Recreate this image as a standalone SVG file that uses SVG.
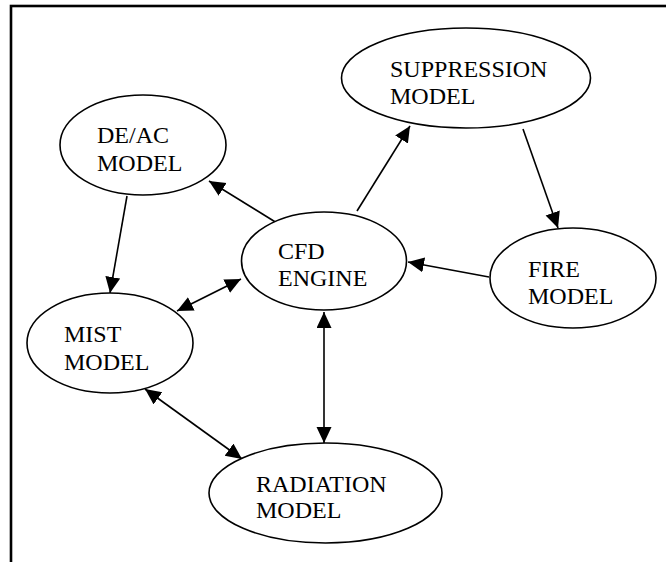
<svg xmlns="http://www.w3.org/2000/svg" width="666" height="562" viewBox="0 0 666 562">
<style>
.node ellipse{fill:#fff;stroke:#000;stroke-width:1.6}
.node text{font-family:"Liberation Serif","Times New Roman",serif;font-size:24px;fill:#000}
.edge{stroke:#000;stroke-width:1.6;fill:none}
</style>
<defs>
<marker id="ah" markerUnits="userSpaceOnUse" markerWidth="17" markerHeight="16" refX="16" refY="7.5" orient="auto-start-reverse">
<path d="M0,0 L16,7.5 L0,15 z" fill="#000"/>
</marker>
</defs>
<rect x="0" y="0" width="666" height="562" fill="#fff"/>
<rect id="frame" x="11" y="6" width="700" height="600" fill="none" stroke="#000" stroke-width="2.6"/>
<g id="connectors">
<line class="edge" x1="127" y1="196" x2="110" y2="293" marker-end="url(#ah)"/>
<line class="edge" x1="277" y1="223" x2="209" y2="181" marker-end="url(#ah)"/>
<line class="edge" x1="177" y1="311" x2="241" y2="279" marker-start="url(#ah)" marker-end="url(#ah)"/>
<line class="edge" x1="357" y1="211" x2="410" y2="126" marker-end="url(#ah)"/>
<line class="edge" x1="523" y1="129" x2="558" y2="228" marker-end="url(#ah)"/>
<line class="edge" x1="489" y1="277" x2="408" y2="262" marker-end="url(#ah)"/>
<line class="edge" x1="324" y1="312" x2="324" y2="443" marker-start="url(#ah)" marker-end="url(#ah)"/>
<line class="edge" x1="145" y1="389" x2="242" y2="459" marker-start="url(#ah)" marker-end="url(#ah)"/>
</g>
<g id="suppression" class="node">
<ellipse cx="466" cy="78" rx="124.5" ry="50"/>
<text x="390" y="77">SUPPRESSION</text>
<text x="390" y="104">MODEL</text>
</g>
<g id="deac" class="node">
<ellipse cx="143" cy="145" rx="83" ry="50"/>
<text x="97" y="143">DE/AC</text>
<text x="97" y="171">MODEL</text>
</g>
<g id="cfd" class="node">
<ellipse cx="324" cy="261" rx="82.5" ry="49"/>
<text x="278" y="259">CFD</text>
<text x="278" y="286">ENGINE</text>
</g>
<g id="fire" class="node">
<ellipse cx="573" cy="278" rx="83" ry="50"/>
<text x="528" y="277">FIRE</text>
<text x="528" y="304">MODEL</text>
</g>
<g id="mist" class="node">
<ellipse cx="110" cy="343" rx="83" ry="50"/>
<text x="64" y="342">MIST</text>
<text x="64" y="370">MODEL</text>
</g>
<g id="radiation" class="node">
<ellipse cx="325.5" cy="493" rx="116.5" ry="50"/>
<text x="256" y="492">RADIATION</text>
<text x="256" y="518">MODEL</text>
</g>
</svg>
